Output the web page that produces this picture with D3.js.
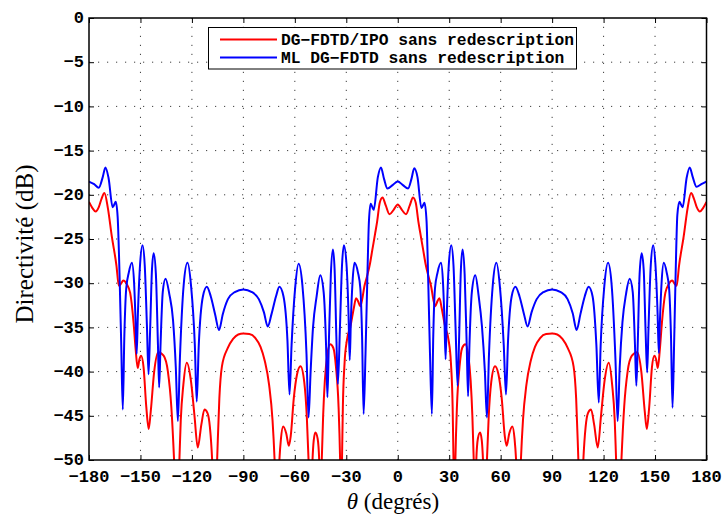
<!DOCTYPE html>
<html>
<head>
<meta charset="utf-8">
<script src="https://cdn.jsdelivr.net/npm/d3@7"></script>
<style>
  html, body { margin: 0; padding: 0; background: #fff; }
  svg { display: block; }
</style>
</head>
<body>
<svg id="chart" width="726" height="517"></svg>
<script>
// ---------- DATA ----------
const seriesNames = ["DG\u2212FDTD/IPO sans redescription", "ML DG\u2212FDTD sans redescription"];
const xTicks = [-180, -150, -120, -90, -60, -30, 0, 30, 60, 90, 120, 150, 180];
const yTicks = [0, -5, -10, -15, -20, -25, -30, -35, -40, -45, -50];

// [theta (deg), directivity (dB)]
const redSeries = [
[-180,-20.8],[-178,-21.5],[-176.1,-21.9],[-174.3,-21.4],[-172.6,-20.4],[-171,-19.8],[-169,-21.5],[-166.7,-24.7],[-164,-28],[-162.6,-30.3],[-161.5,-30.1],[-160,-29.7],[-158,-30.1],[-156,-31.1],[-154,-34.5],[-152.8,-37.5],[-151.6,-39.6],[-150.6,-38.6],[-149.6,-38.2],[-148.2,-39.5],[-146.6,-44],[-145.2,-46.5],[-144,-44.5],[-142,-40],[-139.6,-37.8],[-136.5,-38.2],[-134,-40],[-132,-44],[-130.4,-50],[-128.8,-58],[-127.3,-50],[-126.5,-45.5],[-125,-41.5],[-123,-39],[-120.6,-41],[-118.5,-45],[-116.6,-48.6],[-114.5,-46],[-112.7,-44.3],[-110.9,-44.7],[-109.5,-46.3],[-108.2,-50],[-106.7,-58],[-105.3,-50],[-104,-43],[-102.5,-39.4],[-99,-37.3],[-96,-36.3],[-93,-35.8],[-90,-35.7],
[-86.5,-35.75],[-83,-36.2],[-80,-37.2],[-77.5,-38.8],[-75,-41.5],[-73,-45.5],[-71.8,-50],[-70.4,-58],[-69,-50],[-68.1,-47.6],[-66.8,-46.2],[-65,-47],[-63.5,-48.4],[-62.4,-47.3],[-60.6,-43],[-58.7,-40.3],[-56.7,-39.4],[-54.5,-41.2],[-53,-45.2],[-52,-50],[-50.8,-57],[-49.7,-50],[-49,-47.8],[-48,-46.9],[-46.7,-47.6],[-45.8,-50],[-45,-56],[-44.3,-50],[-43.5,-45],[-42.5,-41],[-41,-38],[-39.4,-36.9],[-37.6,-37.3],[-36,-39.5],[-34.5,-44],[-33.6,-50],[-33,-57],[-32.5,-50],[-32,-44],[-31,-39],[-29.6,-36.4],[-27.5,-34.8],[-25.6,-32.8],[-24.3,-31.7],[-23,-32.1],[-21.9,-32.6],[-20.7,-31.8],[-19.5,-30.4],[-18,-29.3],[-16.2,-27.8],[-14.8,-26.2],[-13.2,-24.4],[-12,-23],[-10.5,-20.9],[-8.9,-20.3],[-7,-21.2],[-4.8,-22.2],[-2.4,-21.7],[0,-21.1],
[2.4,-21.7],[4.8,-22.2],[7,-21.2],[8.9,-20.3],[10.5,-20.9],[12,-23],[13.2,-24.4],[14.8,-26.2],[16.2,-27.8],[18,-29.3],[19.5,-30.4],[20.7,-31.8],[21.9,-32.6],[23,-32.1],[24.3,-31.7],[25.6,-32.8],[27.5,-34.8],[29.6,-36.4],[31,-39],[32,-44],[32.5,-50],[33,-57],[33.6,-50],[34.5,-44],[36,-39.5],[37.6,-37.3],[39.4,-36.9],[41,-38],[42.5,-41],[43.5,-45],[44.3,-50],[45,-56],[45.8,-50],[46.7,-47.6],[48,-46.9],[49,-47.8],[49.7,-50],[50.8,-57],[52,-50],[53,-45.2],[54.5,-41.2],[56.7,-39.4],[58.7,-40.3],[60.6,-43],[62.4,-47.3],[63.5,-48.4],[65,-47],[66.8,-46.2],[68.1,-47.6],[69,-50],[70.4,-58],[71.8,-50],[73,-45.5],[75,-41.5],[77.5,-38.8],[80,-37.2],[83,-36.2],[86.5,-35.75],[90,-35.7],
[93,-35.8],[96,-36.3],[99,-37.3],[102.5,-39.4],[104,-43],[105.3,-50],[106.7,-58],[108.2,-50],[109.5,-46.3],[110.9,-44.7],[112.7,-44.3],[114.5,-46],[116.6,-48.6],[118.5,-45],[120.6,-41],[123,-39],[125,-41.5],[126.5,-45.5],[127.3,-50],[128.8,-58],[130.4,-50],[132,-44],[134,-40],[136.5,-38.2],[139.6,-37.8],[142,-40],[144,-44.5],[145.2,-46.5],[146.6,-44],[148.2,-39.5],[149.6,-38.2],[150.6,-38.6],[151.6,-39.6],[152.8,-37.5],[154,-34.5],[156,-31.1],[158,-30.1],[160,-29.7],[161.5,-30.1],[162.6,-30.3],[164,-28],[166.7,-24.7],[169,-21.5],[171,-19.8],[172.6,-20.4],[174.3,-21.4],[176.1,-21.9],[178,-21.5],[180,-20.8]
];

const blueSeries = [
[-180,-18.5],[-177,-18.8],[-174.3,-19.2],[-172,-18.0],[-170.4,-16.9],[-168.6,-18.1],[-166.2,-21.4],[-164.4,-20.8],[-163.3,-22.5],[-162.2,-29],[-161.2,-37],[-160.3,-44.3],[-159.4,-36],[-158.3,-30.6],[-156.8,-28.8],[-155,-27.7],[-153.7,-30],[-152.9,-34],[-152.2,-38],[-151.5,-33.5],[-150.2,-27.8],[-148.8,-25.7],[-147.5,-28],[-146.2,-35],[-145.3,-40.3],[-144.4,-35.5],[-143.3,-28.5],[-142.3,-26.6],[-141,-29],[-139.8,-37],[-139.1,-41.8],[-138.3,-37],[-137,-31],[-135.4,-29.5],[-133.2,-31.2],[-131,-34.2],[-129.4,-39.5],[-128.2,-45.6],[-127,-38.5],[-124.8,-30.2],[-122.6,-27.7],[-120.5,-30.3],[-118.3,-37],[-117.2,-43.4],[-116,-37],[-113.6,-31.5],[-111.3,-30.4],[-109,-31.5],[-106.5,-33.5],[-104.2,-35.3],[-102,-33.5],[-99,-31.8],[-95,-31],[-90,-30.7],
[-85,-31],[-81,-31.8],[-78,-33.3],[-75.8,-34.9],[-73.6,-33.5],[-71,-31.5],[-69,-30.4],[-66.6,-31.5],[-64.3,-36.5],[-63.1,-42.6],[-61.9,-37],[-59.8,-30.5],[-57.8,-27.8],[-55.6,-30.2],[-53.2,-38],[-52,-45.2],[-50.8,-40],[-49.4,-35],[-47.3,-31.5],[-45.2,-29.1],[-43.2,-31],[-41.8,-37],[-41,-42.9],[-40.2,-37],[-39,-29],[-37.8,-26.2],[-36.8,-28.5],[-35.8,-36],[-34.9,-41.4],[-33.7,-35],[-32.5,-28],[-31.4,-25.7],[-29.9,-27.8],[-28.7,-33.5],[-28,-38.7],[-27.3,-34],[-26.4,-30],[-25.2,-27.7],[-23.2,-28.8],[-21.8,-30.6],[-20.8,-36],[-19.9,-44.8],[-18.8,-38],[-17.8,-30],[-16.8,-23],[-15.8,-21],[-14,-21.7],[-11.6,-18],[-9.8,-16.9],[-8,-18.2],[-6,-19.3],[-3,-18.9],[0,-18.5],
[3,-18.9],[6,-19.3],[8,-18.2],[9.6,-17.0],[11.5,-18],[13.8,-21.5],[15.6,-20.9],[16.8,-23],[17.8,-30],[18.8,-38],[19.9,-44.8],[20.7,-36],[21.7,-30.6],[23.2,-28.8],[25.2,-27.7],[26.4,-30],[27.2,-34],[27.9,-38.6],[28.6,-33.5],[29.8,-27.8],[31.2,-25.7],[32.5,-28],[33.7,-35],[34.9,-41.6],[35.8,-36],[36.8,-28.5],[37.8,-26.2],[39,-29],[40.2,-37],[41,-42.8],[41.8,-37],[43.2,-31],[45.2,-29.1],[47.2,-31.5],[49.1,-34.9],[50.8,-40],[52,-45.2],[53.2,-38],[55.4,-30.2],[57.5,-27.7],[59.6,-30.5],[61.8,-37],[63.1,-42.6],[64.3,-36.5],[66.4,-31.5],[68.6,-30.4],[71,-31.5],[73.6,-33.5],[75.7,-34.9],[78,-33.3],[81,-31.8],[85,-31],[90,-30.7],
[95,-31],[99,-31.8],[102,-33.4],[104.3,-35.3],[106.5,-33.5],[109,-31.5],[111.3,-30.4],[113.6,-31.5],[115.8,-37],[117.2,-43.5],[118.3,-37],[120.4,-30.4],[122.6,-27.7],[124.7,-30.2],[126.9,-38.5],[128.2,-45.6],[129.4,-39.5],[131,-34.4],[133.1,-31.2],[135.2,-29.5],[137,-31],[138.3,-37],[139.1,-41.6],[139.9,-37],[141,-29],[142.2,-26.6],[143.4,-28.5],[144.5,-35.5],[145.4,-40.1],[146.2,-35],[147.5,-28],[148.9,-25.7],[150.2,-27.8],[151.5,-33.5],[152.2,-37.9],[152.9,-34],[153.8,-30],[155.1,-27.7],[156.8,-28.8],[158.2,-30.6],[159.3,-36],[160.2,-44.1],[161.1,-37],[162,-29],[163,-22.3],[164.2,-20.8],[166.1,-21.4],[168.4,-18.1],[170.2,-16.9],[172,-18],[174.2,-19.1],[177,-18.8],[180,-18.5]
];

const seriesColors = ["#ff0000", "#0000ff"];

// ---------- LAYOUT ----------
const W = 726, H = 517;
const plot = { left: 89, right: 706.5, top: 18, bottom: 460 };
const monoFont = "'Liberation Mono', 'Courier New', monospace";
const serifFont = "'Liberation Serif', 'Times New Roman', serif";

const svg = d3.select("#chart");
const x = d3.scaleLinear().domain([-180, 180]).range([plot.left, plot.right]);
const y = d3.scaleLinear().domain([-50, 0]).range([plot.bottom, plot.top]);

// grid
const grid = svg.append("g").attr("stroke", "#000").attr("stroke-width", 1)
  .attr("stroke-dasharray", "1.2,7.8").attr("opacity", 0.75);
xTicks.slice(1, -1).forEach(t => {
  grid.append("line").attr("x1", x(t)).attr("x2", x(t)).attr("y1", plot.bottom).attr("y2", plot.top);
});
yTicks.slice(1, -1).forEach(t => {
  grid.append("line").attr("x1", plot.left).attr("x2", plot.right).attr("y1", y(t)).attr("y2", y(t));
});

// clip
svg.append("defs").append("clipPath").attr("id", "clip")
  .append("rect").attr("x", plot.left).attr("y", plot.top)
  .attr("width", plot.right - plot.left).attr("height", plot.bottom - plot.top);

const line = d3.line().x(d => x(d[0])).y(d => y(d[1])).curve(d3.curveMonotoneX);
const lines = svg.append("g").attr("clip-path", "url(#clip)");
[redSeries, blueSeries].forEach((s, i) => {
  lines.append("path").datum(s).attr("d", line)
    .attr("fill", "none").attr("stroke", seriesColors[i])
    .attr("stroke-width", 2).attr("stroke-linejoin", "round");
});

// axes with inner ticks
const tickLen = 5;
const axB = d3.axisBottom(x).tickValues(xTicks).tickSizeInner(-tickLen).tickSizeOuter(0).tickFormat(() => "");
const axT = d3.axisTop(x).tickValues(xTicks).tickSizeInner(-tickLen).tickSizeOuter(0).tickFormat(() => "");
const axL = d3.axisLeft(y).tickValues(yTicks).tickSizeInner(-tickLen).tickSizeOuter(0).tickFormat(() => "");
const axR = d3.axisRight(y).tickValues(yTicks).tickSizeInner(-tickLen).tickSizeOuter(0).tickFormat(() => "");
function styleAxis(g) { g.select(".domain").remove(); g.selectAll("line").attr("stroke", "#000").attr("stroke-width", 1); }
svg.append("g").attr("transform", `translate(0,${plot.bottom})`).call(axB).call(styleAxis);
svg.append("g").attr("transform", `translate(0,${plot.top})`).call(axT).call(styleAxis);
svg.append("g").attr("transform", `translate(${plot.left},0)`).call(axL).call(styleAxis);
svg.append("g").attr("transform", `translate(${plot.right},0)`).call(axR).call(styleAxis);

// frame
svg.append("rect").attr("x", plot.left).attr("y", plot.top)
  .attr("width", plot.right - plot.left).attr("height", plot.bottom - plot.top)
  .attr("fill", "none").attr("stroke", "#000").attr("stroke-width", 1.5);

// tick labels
const fmt = v => (v < 0 ? "\u2212" + Math.abs(v) : String(v));
svg.append("g").selectAll("text").data(xTicks).join("text")
  .attr("x", d => x(d)).attr("y", 482)
  .attr("text-anchor", "middle")
  .attr("font-family", monoFont).attr("font-weight", "bold").attr("font-size", 17)
  .text(fmt);
svg.append("g").selectAll("text").data(yTicks).join("text")
  .attr("x", 84).attr("y", d => y(d)).attr("dy", "0.3em")
  .attr("text-anchor", "end")
  .attr("font-family", monoFont).attr("font-weight", "bold").attr("font-size", 17)
  .text(fmt);

// axis titles
const xt = svg.append("text").attr("x", 393).attr("y", 509).attr("text-anchor", "middle")
  .attr("font-family", serifFont).attr("font-size", 23);
xt.append("tspan").attr("font-style", "italic").text("\u03b8");
xt.append("tspan").text(" (degrés)");

svg.append("text").attr("transform", "translate(33,244) rotate(-90)")
  .attr("text-anchor", "middle").attr("font-family", serifFont).attr("font-size", 25)
  .text("Directivité (dB)");

// legend
const lg = svg.append("g");
lg.append("rect").attr("x", 208.5).attr("y", 27.5).attr("width", 368).attr("height", 41.5)
  .attr("fill", "#fff").attr("stroke", "#000").attr("stroke-width", 1);
const legendY = [39.5, 57.5];
seriesNames.forEach((name, i) => {
  lg.append("line").attr("x1", 220).attr("x2", 277).attr("y1", legendY[i]).attr("y2", legendY[i])
    .attr("stroke", seriesColors[i]).attr("stroke-width", 2);
  lg.append("text").attr("x", 281).attr("y", legendY[i]).attr("dy", "0.35em")
    .attr("font-family", monoFont).attr("font-weight", "bold").attr("font-size", 16.3)
    .text(name);
});
</script>
</body>
</html>
